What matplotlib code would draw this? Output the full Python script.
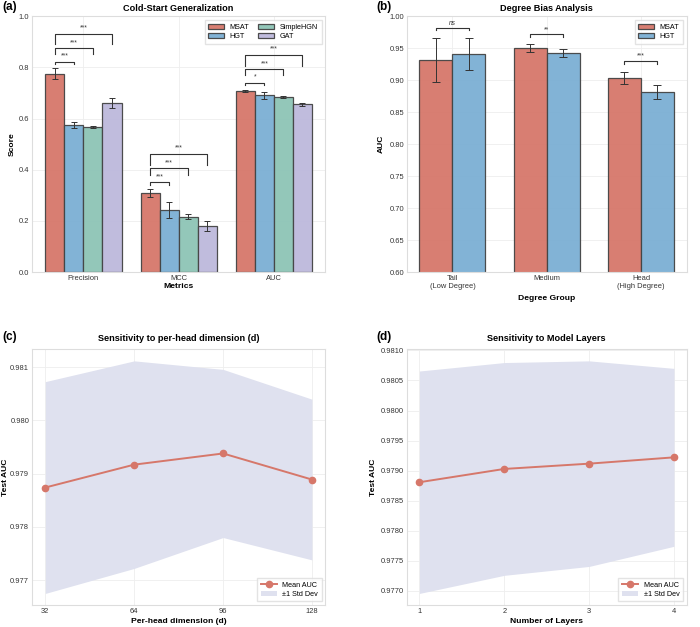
import matplotlib
matplotlib.use("Agg")
import matplotlib.pyplot as plt
import numpy as np

plt.rcParams['font.family'] = ['Liberation Sans', 'DejaVu Sans']
plt.rcParams['axes.edgecolor'] = '#DDDDDD'
plt.rcParams['axes.linewidth'] = 0.8
plt.rcParams['grid.color'] = '#EEEEEE'
plt.rcParams['grid.linewidth'] = 0.6
plt.rcParams['xtick.color'] = '#333333'
plt.rcParams['ytick.color'] = '#333333'

# (a) cold-start
metrics = ["Precision", "MCC", "AUC"]
models = ["MSAT", "HGT", "SimpleHGN", "GAT"]
cs_mean = {
    "MSAT": [0.775, 0.309, 0.708],
    "HGT": [0.575, 0.243, 0.691],
    "SimpleHGN": [0.567, 0.217, 0.685],
    "GAT": [0.661, 0.181, 0.657],
}
cs_err = {
    "MSAT": [0.021, 0.017, 0.005],
    "HGT": [0.013, 0.031, 0.015],
    "SimpleHGN": [0.004, 0.010, 0.005],
    "GAT": [0.020, 0.019, 0.006],
}
# significance vs MSAT: (metric idx, other model idx, bracket height, leg drop, label)
cs_sig = [
    (0, 1, 0.823, 0.010, "***"), (0, 2, 0.876, 0.023, "***"), (0, 3, 0.932, 0.040, "***"),
    (1, 1, 0.352, 0.010, "***"), (1, 2, 0.406, 0.025, "***"), (1, 3, 0.462, 0.042, "***"),
    (2, 1, 0.740, 0.010, "*"), (2, 2, 0.794, 0.025, "***"), (2, 3, 0.849, 0.042, "***"),
]

# (b) degree bias
groups = ["Tail\n(Low Degree)", "Medium", "Head\n(High Degree)"]
deg_msat = [0.932, 0.9505, 0.9036]
deg_msat_err = [0.034, 0.0065, 0.010]
deg_hgt = [0.941, 0.9427, 0.881]
deg_hgt_err = [0.025, 0.006, 0.011]
deg_sig = [(0.982, "ns"), (0.972, "**"), (0.930, "***")]

# (c) per-head dimension
dims = [32, 64, 96, 128]
dim_mean = [0.97874, 0.97917, 0.97938, 0.97889]
dim_std = [0.00199, 0.00195, 0.00158, 0.00151]

# (d) layers
layers = [1, 2, 3, 4]
lay_mean = [0.978807, 0.979028, 0.979116, 0.979221]
lay_std = [0.00185, 0.00177, 0.00171, 0.00148]

colors = {"MSAT": "#D6776A", "HGT": "#7BAFD4", "SimpleHGN": "#8DC4B6", "GAT": "#BDB9DC"}
edge = '#444444'
fs_tick = 5.4
fs_lab = 6.1
fs_title = 6.6
fs_leg = 5.2

fig = plt.figure(figsize=(7.0, 6.27), dpi=100)
ax_a = fig.add_axes([0.0457, 0.566, 0.419, 0.408])
ax_b = fig.add_axes([0.581, 0.566, 0.400, 0.408])
ax_c = fig.add_axes([0.0457, 0.035, 0.419, 0.408])
ax_d = fig.add_axes([0.581, 0.035, 0.400, 0.408])

def style(ax):
    ax.set_axisbelow(True)
    ax.grid(True)
    ax.tick_params(length=0, labelsize=fs_tick, pad=2)
    for s in ax.spines.values():
        s.set_color('#DDDDDD')

# ---- (a)
x = np.arange(len(metrics))
w = 0.2
for i, m in enumerate(models):
    ax_a.bar(x + (i - 1.5) * w, cs_mean[m], w, yerr=cs_err[m], color=colors[m],
             edgecolor=edge, linewidth=0.9, alpha=0.95, label=m,
             error_kw=dict(ecolor='#333333', elinewidth=0.7, capsize=2.5, capthick=0.7))
for mi, oi, h, d, lab in cs_sig:
    x1 = x[mi] - 1.5 * w
    x2 = x[mi] + (oi - 1.5) * w
    ax_a.plot([x1, x1, x2, x2], [h - d, h, h, h - d], color='#333333', lw=0.8)
    ax_a.text((x1 + x2) / 2, h + 0.008, lab, ha='center', va='bottom', fontsize=4.8, color='#333333')
ax_a.set_ylim(0, 1.0)
ax_a.set_xticks(x)
ax_a.set_xticklabels(metrics)
ax_a.set_xlabel("Metrics", fontsize=fs_lab, fontweight='bold', labelpad=1)
ax_a.set_ylabel("Score", fontsize=fs_lab, fontweight='bold', labelpad=2)
ax_a.set_title("Cold-Start Generalization", fontsize=fs_title, fontweight='bold', pad=4)
style(ax_a)
ax_a.legend(ncol=2, fontsize=fs_leg, loc='upper right', frameon=True, fancybox=False,
            edgecolor='#DDDDDD', handlelength=2.2, handleheight=0.8, columnspacing=1.2,
            borderpad=0.5, labelspacing=0.3)

# ---- (b)
xb = np.arange(len(groups))
wb = 0.35
eb = dict(ecolor='#333333', elinewidth=0.7, capsize=3, capthick=0.7)
ax_b.bar(xb - wb / 2, deg_msat, wb, yerr=deg_msat_err, color=colors["MSAT"], edgecolor=edge,
         linewidth=0.9, alpha=0.95, label="MSAT", error_kw=eb)
ax_b.bar(xb + wb / 2, deg_hgt, wb, yerr=deg_hgt_err, color=colors["HGT"], edgecolor=edge,
         linewidth=0.9, alpha=0.95, label="HGT", error_kw=eb)
for i, (h, lab) in enumerate(deg_sig):
    x1, x2 = xb[i] - wb / 2, xb[i] + wb / 2
    ax_b.plot([x1, x1, x2, x2], [h - 0.004, h, h, h - 0.004], color='#333333', lw=0.8)
    ax_b.text(xb[i], h + 0.002, lab, ha='center', va='bottom', fontsize=4.8, color='#333333',
              style='italic' if lab == "ns" else 'normal')
ax_b.set_ylim(0.60, 1.00)
ax_b.set_xticks(xb)
ax_b.set_xticklabels(groups)
ax_b.set_xlabel("Degree Group", fontsize=fs_lab, fontweight='bold', labelpad=4)
ax_b.set_ylabel("AUC", fontsize=fs_lab, fontweight='bold', labelpad=3)
ax_b.set_title("Degree Bias Analysis", fontsize=fs_title, fontweight='bold', pad=4)
style(ax_b)
ax_b.legend(fontsize=fs_leg, loc='upper right', frameon=True, fancybox=False, edgecolor='#DDDDDD',
            handlelength=2.2, handleheight=0.8, borderpad=0.5, labelspacing=0.3)

# ---- (c) & (d)
def sens(ax, xs, mean, std, title, xlabel, ylabel_pad):
    mean = np.array(mean)
    std = np.array(std)
    ax.fill_between(xs, mean - std, mean + std, color='#DFE1EF', lw=0, label="±1 Std Dev")
    ax.plot(xs, mean, color=colors["MSAT"], lw=1.4, marker='o', markersize=4.5, label="Mean AUC")
    ax.set_xticks(xs)
    ax.set_title(title, fontsize=fs_title, fontweight='bold', pad=6)
    ax.set_xlabel(xlabel, fontsize=fs_lab, fontweight='bold', labelpad=2)
    ax.set_ylabel("Test AUC", fontsize=fs_lab, fontweight='bold', labelpad=ylabel_pad)
    style(ax)
    h, l = ax.get_legend_handles_labels()
    ax.legend(h[::-1], l[::-1], fontsize=fs_leg, loc='lower right', frameon=True, fancybox=False,
              edgecolor='#DDDDDD', borderpad=0.5, labelspacing=0.3, handlelength=2.2)

sens(ax_c, dims, dim_mean, dim_std, "Sensitivity to per-head dimension (d)", "Per-head dimension (d)", 1)
ax_c.set_yticks([0.977, 0.978, 0.979, 0.980, 0.981])
ax_c.set_yticklabels(["0.977", "0.978", "0.979", "0.980", "0.981"])
sens(ax_d, layers, lay_mean, lay_std, "Sensitivity to Model Layers", "Number of Layers", 3)
d_ticks = np.arange(0.9770, 0.98101, 0.0005)
ax_d.set_yticks(d_ticks)
ax_d.set_yticklabels(["%.4f" % v for v in d_ticks])

fig.text(0.003, 0.999, "(a)", fontsize=8.5, fontweight='bold', va='top')
fig.text(0.537, 0.999, "(b)", fontsize=8.5, fontweight='bold', va='top')
fig.text(0.003, 0.472, "(c)", fontsize=8.5, fontweight='bold', va='top')
fig.text(0.537, 0.472, "(d)", fontsize=8.5, fontweight='bold', va='top')

fig.savefig("out.png", dpi=100)
